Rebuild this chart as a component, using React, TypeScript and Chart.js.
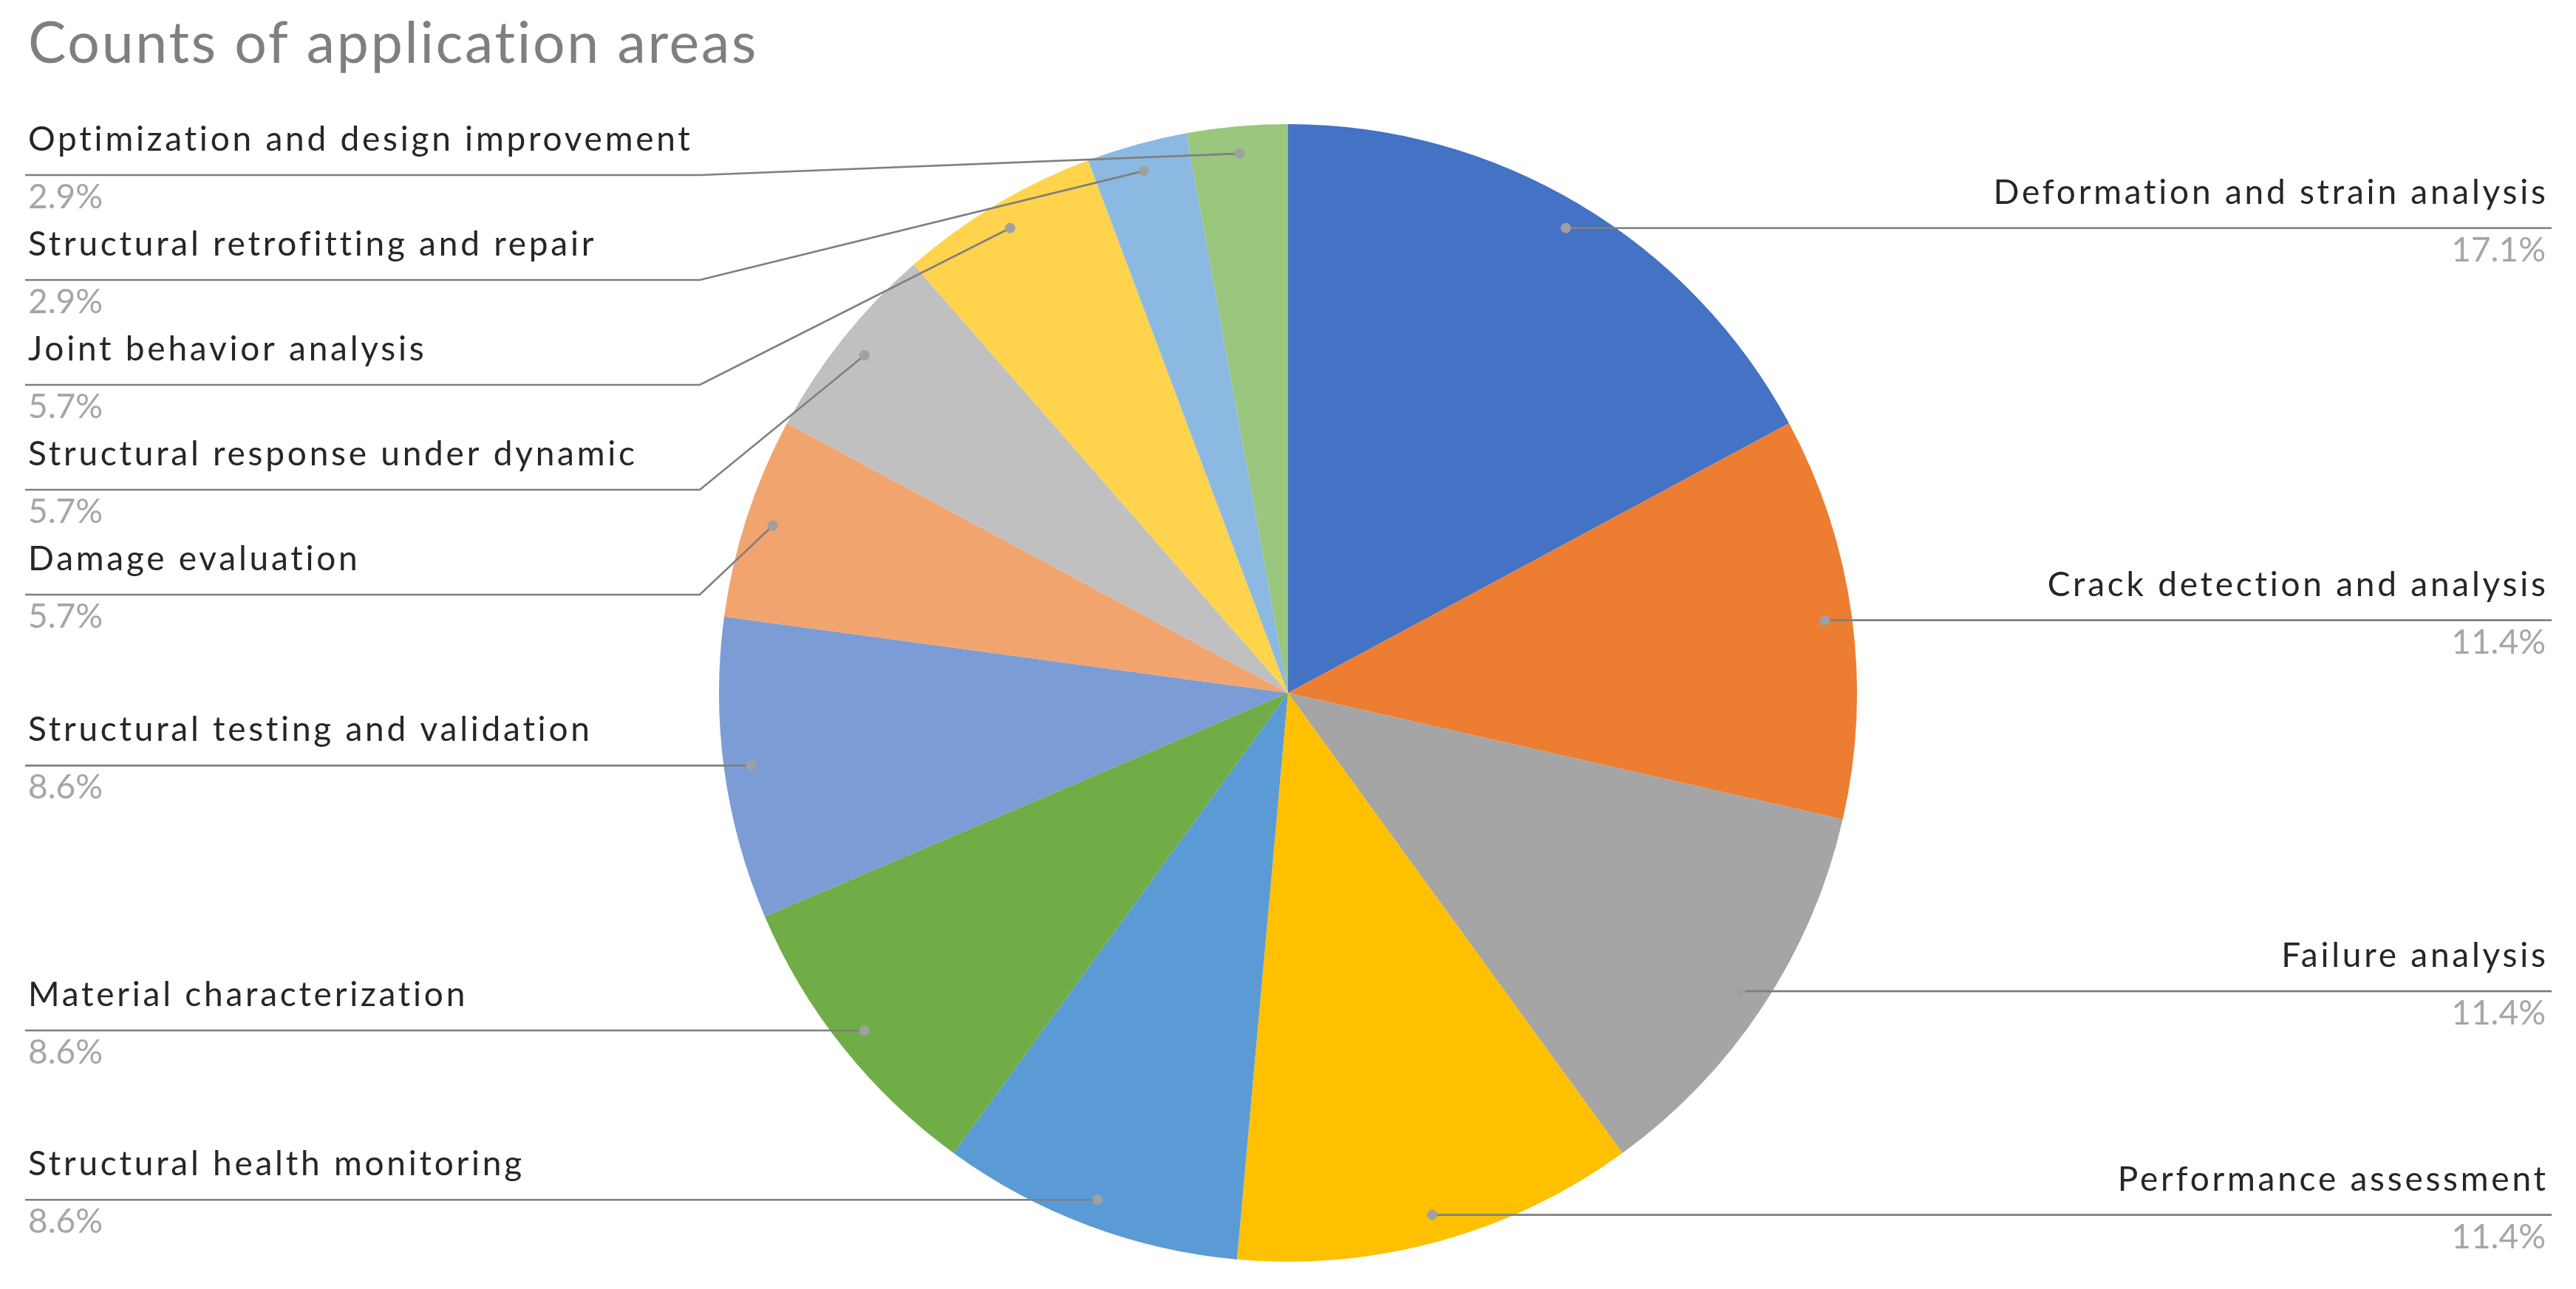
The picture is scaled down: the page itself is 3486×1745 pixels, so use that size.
import React, { useEffect, useRef } from 'react';
import { Chart, registerables } from 'chart.js';

Chart.register(...registerables);

const chartTitle = 'Counts of application areas';

const categories = [
  'Deformation and strain analysis',
  'Crack detection and analysis',
  'Failure analysis',
  'Performance assessment',
  'Structural health monitoring',
  'Material characterization',
  'Structural testing and validation',
  'Damage evaluation',
  'Structural response under dynamic',
  'Joint behavior analysis',
  'Structural retrofitting and repair',
  'Optimization and design improvement',
];

const counts = [6, 4, 4, 4, 3, 3, 3, 2, 2, 2, 1, 1];

const sliceColors = [
  '#4472C4', '#ED7D31', '#A5A5A5', '#FFC000', '#5B9BD5', '#70AD47',
  '#7C9CD6', '#F2A46F', '#C0C0C0', '#FFD34C', '#8CB9E2', '#9BC67E',
];

const FONT = 'Lato, "Noto Sans", sans-serif';
const W = 3486;
const H = 1745;

const labelPlugin = {
  id: 'excelLabels',
  afterDatasetsDraw(chart: any) {
    const ctx: any = chart.ctx;
    const meta = chart.getDatasetMeta(0);
    const data = chart.data.datasets[0].data as number[];
    const total = data.reduce((a, b) => a + b, 0);
    const items = meta.data.map((arc: any, i: number) => {
      const p = arc.getProps(['x', 'y', 'startAngle', 'endAngle', 'outerRadius'], true);
      const mid = (p.startAngle + p.endAngle) / 2;
      const r = p.outerRadius * 0.952;
      return {
        i,
        px: p.x + Math.cos(mid) * r,
        py: p.y + Math.sin(mid) * r,
        right: Math.cos(mid) > 0,
        name: String(chart.data.labels[i]),
        pct: ((data[i] / total) * 100).toFixed(1) + '%',
        lineY: 0,
      };
    });

    const gap = 142;
    const topLimit = 237;
    for (const side of [true, false]) {
      const group = items.filter((d: any) => d.right === side).sort((a: any, b: any) => a.py - b.py);
      let prev = -Infinity;
      for (const d of group) {
        d.lineY = Math.max(d.py, prev + gap, topLimit);
        prev = d.lineY;
      }
    }

    ctx.save();
    // title
    ctx.font = `77px ${FONT}`;
    ctx.letterSpacing = '2.7px';
    ctx.fillStyle = '#7F7F7F';
    ctx.textAlign = 'left';
    ctx.textBaseline = 'alphabetic';
    ctx.fillText(chartTitle, 38, 85);

    const leftX0 = 34;
    const leftElbow = 947;
    const rightX1 = 3453;
    const rightElbow = 2540;
    const textLeft = 38;
    const textRight = 3445;

    for (const d of items) {
      ctx.strokeStyle = '#7F7F7F';
      ctx.lineWidth = 2.6;
      ctx.beginPath();
      if (d.right) {
        ctx.moveTo(rightX1, d.lineY);
        ctx.lineTo(Math.max(rightElbow, d.px), d.lineY);
        ctx.lineTo(d.px, d.py);
      } else {
        ctx.moveTo(leftX0, d.lineY);
        ctx.lineTo(Math.min(leftElbow, d.px), d.lineY);
        ctx.lineTo(d.px, d.py);
      }
      ctx.stroke();
      ctx.fillStyle = '#A0A0A0';
      ctx.beginPath();
      ctx.arc(d.px, d.py, 7, 0, Math.PI * 2);
      ctx.fill();

      ctx.textBaseline = 'alphabetic';
      ctx.textAlign = d.right ? 'right' : 'left';
      const tx = d.right ? textRight : textLeft;
      ctx.font = `46px ${FONT}`;
      ctx.letterSpacing = '3.75px';
      ctx.fillStyle = '#262626';
      // letterSpacing adds trailing space after the last glyph; compensate for right-aligned text
      ctx.fillText(d.name, d.right ? tx + 3.75 : tx, d.lineY - 33);
      ctx.letterSpacing = '0px';
      ctx.fillStyle = '#A6A6A6';
      ctx.fillText(d.pct, tx, d.lineY + 45);
    }
    ctx.restore();
  },
};

export default function App() {
  const canvasRef = useRef<HTMLCanvasElement | null>(null);

  useEffect(() => {
    const canvas = canvasRef.current;
    if (!canvas) return;
    const chart = new Chart(canvas, {
      type: 'pie',
      data: {
        labels: categories,
        datasets: [
          {
            data: counts,
            backgroundColor: sliceColors,
            borderWidth: 0,
            hoverOffset: 0,
          },
        ],
      },
      options: {
        animation: false,
        responsive: false,
        events: [],
        layout: { padding: { left: 973, right: 973, top: 168, bottom: 37 } },
        plugins: {
          legend: { display: false },
          tooltip: { enabled: false },
          title: { display: false },
        },
      },
      plugins: [labelPlugin],
    });
    return () => chart.destroy();
  }, []);

  return (
    <div style={{ position: 'fixed', left: 0, top: 0, width: W, height: H, background: '#fff' }}>
      <canvas ref={canvasRef} width={W} height={H} style={{ width: W, height: H, display: 'block' }} />
    </div>
  );
}
